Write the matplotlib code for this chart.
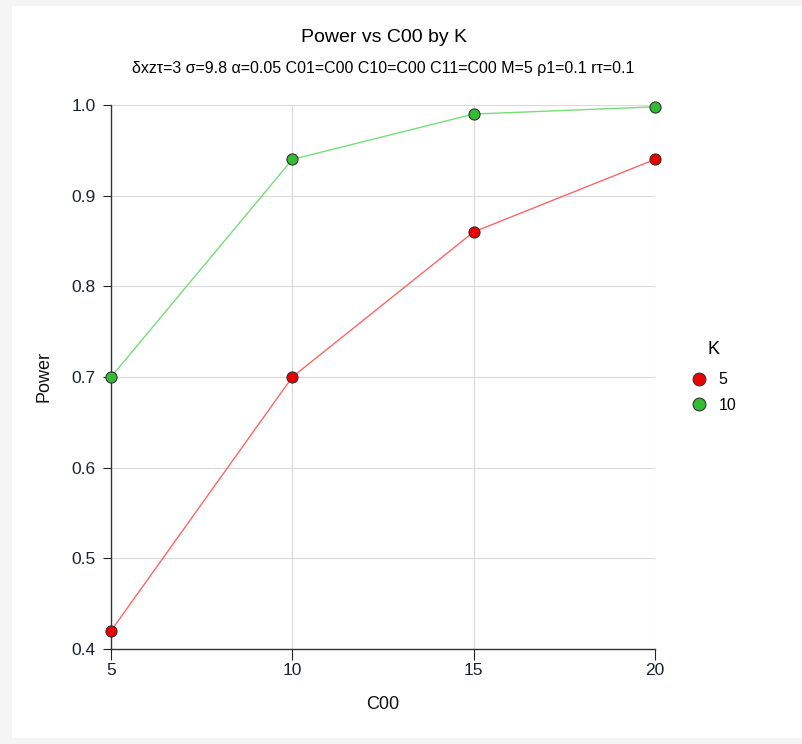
import matplotlib.pyplot as plt
from matplotlib.patches import Rectangle

# chart data
c00 = [5, 10, 15, 20]
power_k5 = [0.42, 0.70, 0.86, 0.94]
power_k10 = [0.70, 0.94, 0.99, 0.998]
k_labels = ["5", "10"]

plt.rcParams['font.family'] = ['Liberation Sans', 'DejaVu Sans']

fig = plt.figure(figsize=(8.03, 7.44), dpi=100)
fig.patch.set_facecolor("#f5f5f5")
# white panel inside the gray frame
fig.patches.append(Rectangle((12 / 803, 6 / 744), 791 / 803, 732 / 744,
                             transform=fig.transFigure, facecolor="white",
                             edgecolor="none", zorder=-10))

ax = fig.add_axes([111 / 803, 1 - 649 / 744, 544 / 803, 544 / 744])
ax.set_facecolor("white")

ax.plot(c00, power_k5, color="#ff6666", lw=1, marker="o", ms=8,
        mfc="#ee0000", mec="#333333", mew=0.8, label=k_labels[0], zorder=3, clip_on=False)
ax.plot(c00, power_k10, color="#77dd77", lw=1, marker="o", ms=8,
        mfc="#33bb33", mec="#333333", mew=0.8, label=k_labels[1], zorder=3, clip_on=False)

ax.set_xlim(5, 20)
ax.set_ylim(0.4, 1.0)
ax.set_xticks(c00)
ax.set_yticks([0.4, 0.5, 0.6, 0.7, 0.8, 0.9, 1.0])
ax.set_yticklabels(["0.4", "0.5", "0.6", "0.7", "0.8", "0.9", "1.0"])
ax.grid(True, color="#d9d9d9", lw=0.8)
ax.set_axisbelow(True)
for s in ["top", "right"]:
    ax.spines[s].set_visible(False)
for s in ["left", "bottom"]:
    ax.spines[s].set_color("#333333")
    ax.spines[s].set_linewidth(1)
ax.tick_params(color="#222222", labelsize=12.5, labelcolor="#1a2230")
ax.tick_params(axis="y", length=6, pad=5)
ax.tick_params(axis="x", length=8, pad=2)

ax.set_xlabel("C00", fontsize=13, labelpad=13, color="#111111")
ax.set_ylabel("Power", fontsize=13, labelpad=14, color="#111111")

fig.text(384 / 803, 1 - 38 / 744, "Power vs C00 by K", ha="center", va="center", fontsize=14)
fig.text(383 / 803, 1 - 68 / 744,
         "δxzτ=3 σ=9.8 α=0.05 C01=C00 C10=C00 C11=C00 M=5 ρ1=0.1 rτ=0.1",
         ha="center", va="center", fontsize=11.5)

leg = ax.legend(title="K", loc="center left", bbox_to_anchor=(1.04, 0.5),
                frameon=False, fontsize=11.5, title_fontsize=13,
                handlelength=1.0, handletextpad=0.7, markerscale=1.15,
                labelspacing=0.65)
leg._legend_box.sep = 10
for h in leg.get_lines():
    h.set_linestyle("none")

fig.savefig("out.png", dpi=100, facecolor=fig.get_facecolor())
